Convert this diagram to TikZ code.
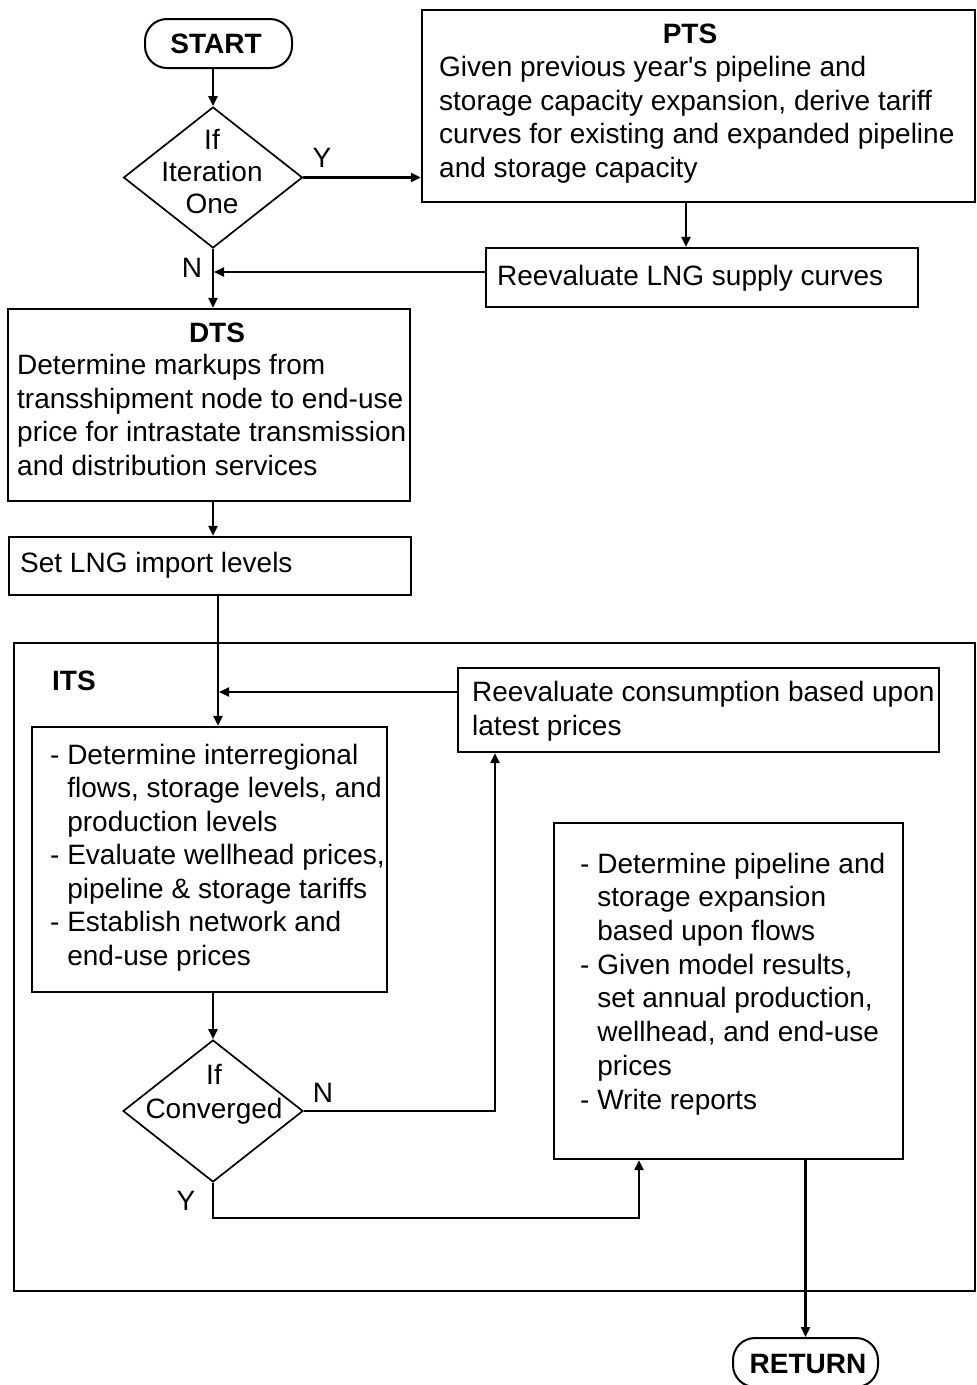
\documentclass[tikz,border=0pt]{standalone}
\usepackage{fontspec}
\setmainfont{Liberation Sans}[Ligatures=TeXOff]
\usetikzlibrary{arrows.meta,shapes.geometric}
\begin{document}
\begin{tikzpicture}[x=1pt,y=-1pt,
  every node/.style={font=\fontsize{28}{33.5}\selectfont},
  box/.style={draw,line width=2.2pt,rectangle,inner sep=0pt},
  pill/.style={draw,line width=2pt,rectangle,rounded corners=22pt,inner sep=0pt},
  dia/.style={draw,line width=1.7pt,diamond,inner sep=0pt},
  arr/.style={line width=2.2pt,-{Triangle[length=10pt,width=9pt]}},
  txt/.style={inner sep=0pt,align=left,anchor=base west},
  ttl/.style={inner sep=0pt,anchor=base,font=\fontsize{28}{33.5}\selectfont\bfseries},
  lbl/.style={inner sep=0pt,anchor=base}]
\useasboundingbox[fill=white] (0,0) rectangle (977,1385);
% boxes
\node[pill,minimum width=147pt,minimum height=49pt] (start) at (218.5,43.5) {};
\node[dia,minimum width=179pt,minimum height=141pt] (d1) at (213,177.5) {};
\node[box,minimum width=553pt,minimum height=192pt] (pts) at (698.5,106) {};
\node[box,minimum width=432pt,minimum height=59pt] (lng) at (702,277.5) {};
\node[box,minimum width=402pt,minimum height=192pt] (dts) at (209,405) {};
\node[box,minimum width=402pt,minimum height=58pt] (setlng) at (210,566) {};
\node[box,minimum width=961pt,minimum height=648pt] (its) at (494.5,967) {};
\node[box,minimum width=481pt,minimum height=84pt] (cons) at (698.5,710) {};
\node[box,minimum width=355pt,minimum height=265pt] (det) at (209.5,859.5) {};
\node[box,minimum width=349pt,minimum height=336pt] (fin) at (728.5,991) {};
\node[dia,minimum width=180pt,minimum height=142pt] (d2) at (213,1111) {};
\node[pill,minimum width=145pt,minimum height=49pt] (ret) at (805.5,1362.5) {};
% texts (multi-line nodes: base = baseline of last line)
\node[ttl] (tstart) at (216,53) {START};
\node[lbl,align=center,font=\fontsize{28}{32}\selectfont] (td1) at (212,213) {If\\Iteration\\One};
\node[lbl] (ly1) at (322,167) {Y};
\node[lbl] (ln1) at (192,277) {N};
\node[ttl] (tpts) at (690,43) {PTS};
\node[txt] (tptsb) at (439,177) {Given previous year's pipeline and\\storage capacity expansion, derive tariff\\curves for existing and expanded pipeline\\and storage capacity};
\node[txt] (tlng) at (497,285) {Reevaluate LNG supply curves};
\node[ttl] (tdts) at (217,342) {DTS};
\node[txt] (tdtsb) at (17,475) {Determine markups from\\transshipment node to end-use\\price for intrastate transmission\\and distribution services};
\node[txt] (tset) at (20,572) {Set LNG import levels};
\node[ttl,anchor=base west] (tits) at (52,690) {ITS};
\node[txt] (tcons) at (472,735) {Reevaluate consumption based upon\\latest prices};
\node[txt] (tdet) at (50,965) {- Determine interregional\\\hphantom{- }flows, storage levels, and\\\hphantom{- }production levels\\- Evaluate wellhead prices,\\\hphantom{- }pipeline \& storage tariffs\\- Establish network and\\\hphantom{- }end-use prices};
\node[txt,font=\fontsize{28}{33.7}\selectfont] (tfin) at (580,1109) {- Determine pipeline and\\\hphantom{- }storage expansion\\\hphantom{- }based upon flows\\- Given model results,\\\hphantom{- }set annual production,\\\hphantom{- }wellhead, and end-use\\\hphantom{- }prices\\- Write reports};
\node[lbl,align=center] (td2) at (214,1118) {If\\Converged};
\node[lbl] (ln2) at (323,1102) {N};
\node[lbl] (ly2) at (186,1210) {Y};
\node[ttl] (tret) at (808,1373) {RETURN};
% helper coordinates
\coordinate (c1) at (686,0);
\coordinate (c2) at (0,272);
\coordinate (c3) at (218,0);
\coordinate (c4) at (0,692);
\coordinate (c5) at (495,0);
\coordinate (c6) at (639,1218);
% connectors
\draw[arr] (start.south -| d1.north) -- (d1.north);
\draw[arr] (d1.east) -- (d1.east -| pts.west);
\draw[arr] (pts.south -| c1) -- (lng.north -| c1);
\draw[arr] (lng.west |- c2) -- ([xshift=1pt]c2 -| d1.south);
\draw[arr] (d1.south) -- (d1.south |- dts.north);
\draw[arr] (dts.south -| d1.south) -- (setlng.north -| d1.south);
\draw[arr] (setlng.south -| c3) -- (det.north -| c3);
\draw[arr] (cons.west |- c4) -- ([xshift=1pt]c4 -| c3);
\draw[arr] (det.south -| d2.north) -- (d2.north);
\draw[arr] (d2.east) -| (c5 |- cons.south);
\draw[arr] (d2.south) |- (c6) -- (c6 |- fin.south);
\draw[arr] (fin.south -| ret.north) -- (ret.north);
\end{tikzpicture}
\end{document}
